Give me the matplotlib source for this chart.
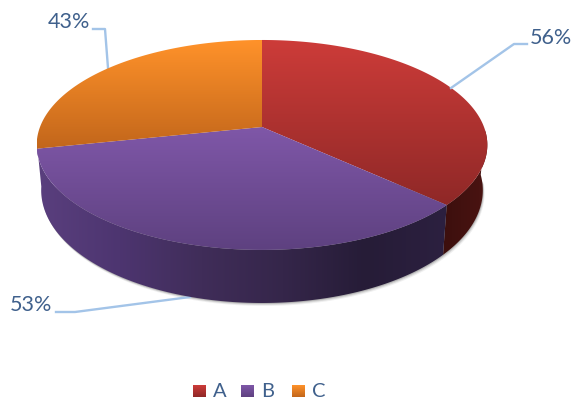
import numpy as np
import matplotlib
matplotlib.use('Agg')
import matplotlib.pyplot as plt
from matplotlib.colors import LinearSegmentedColormap
from matplotlib.patches import Polygon

categories = ['A', 'B', 'C']
values = [56, 53, 43]

top_colors = [('#cd3c39', '#8f2827'), ('#7f57a8', '#5e4180'), ('#ff922a', '#c2661b')]
text_col = '#3f608c'
line_col = '#a3c4e8'

# tilted pie geometry, in pixels
cx, cy = 262, 127
half_w, half_h = 222, 101.9
persp = 0.171
depth = 44
shrink = 0.98

plt.rcParams['font.family'] = ['Lato', 'DejaVu Sans']

fig = plt.figure(figsize=(5.74, 3.99), dpi=100)
ax = fig.add_axes([0, 0, 1, 1])
ax.set_xlim(0, 574)
ax.set_ylim(399, 0)
ax.axis('off')


def rim(theta, lower=False):
    # theta in degrees, clockwise from the top of the pie
    t = np.radians(theta)
    x, y = np.sin(t), np.cos(t)
    s = 1 + persp * y
    px = half_w * x / s
    py = cy - half_h * y / s
    if lower:
        return cx + px * shrink, py + depth / s
    return cx + px, py


def gradient_fill(points, stops, horizontal=False, extent=None, zorder=2):
    # paint a colour ramp and clip it to the given outline
    points = np.asarray(points)
    cmap = LinearSegmentedColormap.from_list('ramp', stops)
    ramp = np.linspace(0, 1, 256).reshape(-1, 1)
    if horizontal:
        ramp = ramp.T
    if extent is None:
        extent = (points[:, 0].min(), points[:, 0].max(), points[:, 1].max(), points[:, 1].min())
    patch = Polygon(points, closed=True, transform=ax.transData, fc='none', ec='none')
    ax.add_patch(patch)
    im = ax.imshow(ramp, cmap=cmap, extent=extent, aspect='auto', zorder=zorder, interpolation='bilinear')
    im.set_clip_path(patch)
    ax.set_xlim(0, 574)
    ax.set_ylim(399, 0)


# slice boundaries from the values
bounds = np.cumsum([0] + values) / sum(values) * 360

# soft shadow under the side wall
theta_side = np.linspace(95, 262, 300)
lx, ly = rim(theta_side, lower=True)
for off, alpha in [(3, 0.08), (2, 0.14), (1, 0.22)]:
    ax.fill(lx + off * 0.6, ly + off, color='#404040', alpha=alpha, lw=0, zorder=1)

# side walls of the slices that face the viewer
theta_a = np.linspace(92, bounds[1], 120)
ux, uy = rim(theta_a)
lx, ly = rim(theta_a, lower=True)
wall_a = np.vstack([np.column_stack([ux, uy]), np.column_stack([lx, ly])[::-1]])
gradient_fill(wall_a, ['#3c0f0d', '#4b1412'], horizontal=True)

theta_b = np.linspace(bounds[1], 262, 200)
ux, uy = rim(theta_b)
lx, ly = rim(theta_b, lower=True)
wall_b = np.vstack([np.column_stack([ux, uy]), np.column_stack([lx, ly])[::-1]])
gradient_fill(wall_b, ['#5a3f7e', '#4d3570', '#402d59', '#35264a', '#261c37', '#2c2040'],
              horizontal=True)

# top faces, each with its own vertical ramp
for i in range(len(values)):
    th = np.linspace(bounds[i], bounds[i + 1], 200)
    rx, ry = rim(th)
    face = np.vstack([[cx, cy], np.column_stack([rx, ry])])
    gradient_fill(face, top_colors[i], zorder=3)

# leader lines and value labels
ax.plot([451, 514, 527], [88, 44, 44], color=line_col, lw=1.7, zorder=4)
ax.plot([108, 105, 93], [68, 29, 29], color=line_col, lw=1.7, zorder=1)
ax.plot([190, 75, 56], [297, 312, 312], color=line_col, lw=1.7, zorder=1)

ax.text(551, 38, f'{values[0]}%', color=text_col, fontsize=15.5, ha='center', va='center')
ax.text(69, 22, f'{values[2]}%', color=text_col, fontsize=15.5, ha='center', va='center')
ax.text(31, 305, f'{values[1]}%', color=text_col, fontsize=15.5, ha='center', va='center')

# legend along the bottom
legend_x = [193, 241, 292]
for i, name in enumerate(categories):
    x0 = legend_x[i]
    box = [(x0, 385), (x0 + 13, 385), (x0 + 13, 397), (x0, 397)]
    gradient_fill(box, top_colors[i], zorder=3)
    ax.text(x0 + 20, 397, name, color=text_col, fontsize=14.5, ha='left', va='baseline')

fig.savefig('out.png', dpi=100)
